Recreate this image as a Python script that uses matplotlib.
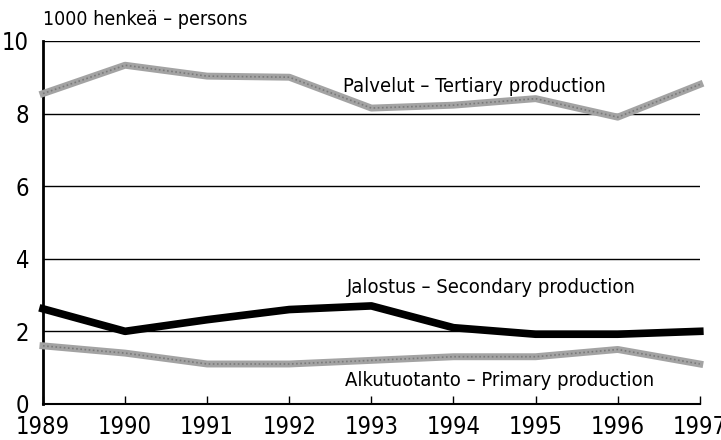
import matplotlib.pyplot as plt
import numpy as np

# employment by sector, 1000 persons
years = [1989, 1990, 1991, 1992, 1993, 1994, 1995, 1996, 1997]
tertiary = [8.55, 9.33, 9.03, 9.0, 8.15, 8.23, 8.41, 7.9, 8.8]
secondary = [2.62, 2.0, 2.32, 2.6, 2.7, 2.1, 1.92, 1.92, 2.0]
primary = [1.6, 1.4, 1.1, 1.1, 1.2, 1.3, 1.3, 1.5, 1.1]

plt.rcParams['font.family'] = ['DejaVu Sans']
plt.rcParams['font.stretch'] = 'condensed'

fig = plt.figure(figsize=(7.21, 4.4), dpi=100)
ax = fig.add_axes([0.0596, 0.082, 0.911, 0.825])

for v in [2, 4, 6, 8, 10]:
    ax.axhline(v, color='black', linewidth=1.0, zorder=1)

ax.plot(years, tertiary, color='#a3a3a3', linewidth=5, solid_joinstyle='round', zorder=3, clip_on=False)
ax.plot(years, tertiary, color='#7a7a7a', linewidth=1.2, linestyle=(0, (1, 1.5)), zorder=4, clip_on=False)
ax.plot(years, primary, color='#a3a3a3', linewidth=5, solid_joinstyle='round', zorder=3, clip_on=False)
ax.plot(years, primary, color='#7a7a7a', linewidth=1.2, linestyle=(0, (1, 1.5)), zorder=4, clip_on=False)
ax.plot(years, secondary, color='black', linewidth=5.5, solid_joinstyle='round', zorder=5, clip_on=False)

ax.text(1992.65, 8.75, 'Palvelut \u2013 Tertiary production', fontsize=14.5, va='center', ha='left')
ax.text(1992.7, 3.2, 'Jalostus \u2013 Secondary production', fontsize=14.5, va='center', ha='left')
ax.text(1992.68, 0.65, 'Alkutuotanto \u2013 Primary production', fontsize=14.5, va='center', ha='left')

ax.set_xlim(1989, 1997)
ax.set_ylim(0, 10)
ax.set_xticks(years)
ax.set_yticks([0, 2, 4, 6, 8, 10])
ax.tick_params(axis='x', direction='in', length=6, width=1, labelsize=17, pad=8)
ax.tick_params(axis='y', length=0, labelsize=17, pad=10)

for s in ['top', 'right']:
    ax.spines[s].set_visible(False)
ax.spines['left'].set_linewidth(2)
ax.spines['bottom'].set_linewidth(1.5)

fig.text(0.0596, 0.955, '1000 henke\u00e4 \u2013 persons', fontsize=14, va='center', ha='left')

fig.savefig('out.png', dpi=100)
